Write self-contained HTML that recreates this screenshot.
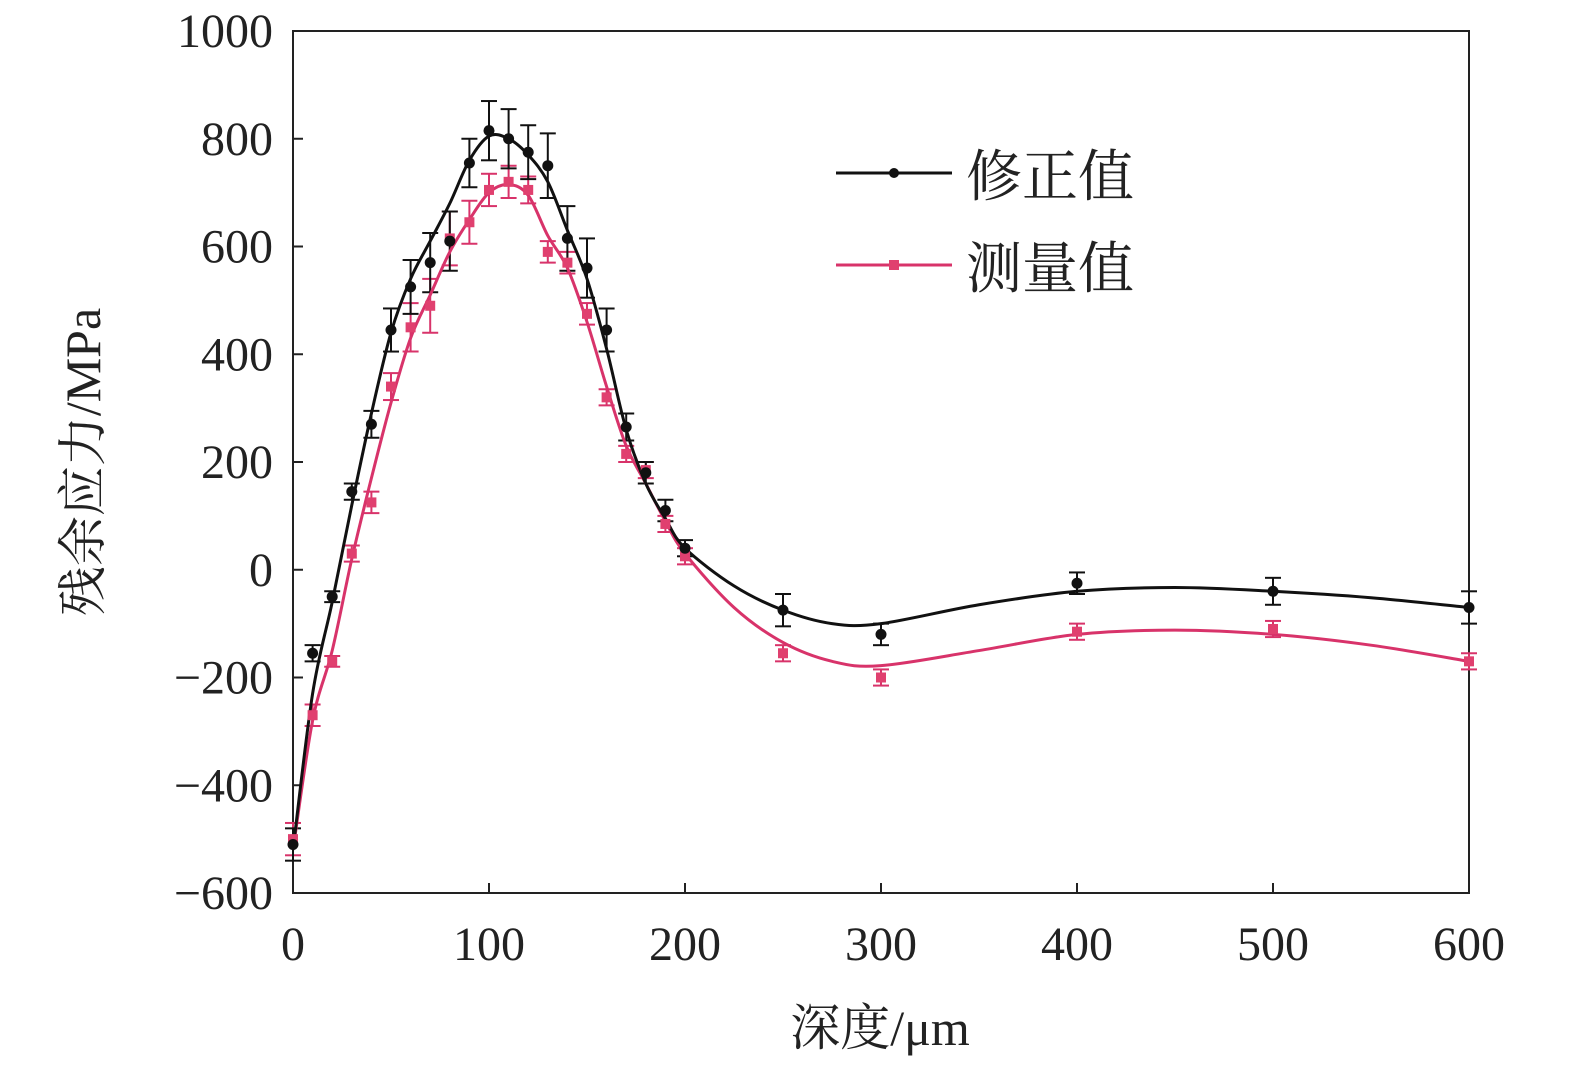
<!DOCTYPE html>
<html><head><meta charset="utf-8"><style>
html,body{margin:0;padding:0;background:#fff;}
svg{display:block;}
text{font-family:"Liberation Serif","Noto Serif CJK SC",serif;fill:#222;}
</style></head><body>
<svg id="s" width="1575" height="1067" viewBox="0 0 1575 1067" xmlns="http://www.w3.org/2000/svg"></svg>
<script>
const s=document.getElementById('s');
const X=v=>293+v*1.96, Y=v=>569.75-v*0.53875;
let h='';
h+=`<rect x="293" y="31" width="1176" height="862" fill="none" stroke="#222" stroke-width="2"/>`;
for(let v=-600;v<=1000;v+=200){const y=Y(v);
 h+=`<line x1="293" y1="${y}" x2="303" y2="${y}" stroke="#222" stroke-width="2"/>`;
 h+=`<text x="273" y="${y+16}" font-size="48" text-anchor="end">${v<0?'\u2212'+(-v):v}</text>`;}
for(let v=0;v<=600;v+=100){const x=X(v);
 h+=`<line x1="${x}" y1="893" x2="${x}" y2="883" stroke="#222" stroke-width="2"/>`;
 h+=`<text x="${x}" y="960" font-size="48" text-anchor="middle">${v}</text>`;}
h+=`<text x="880" y="1045" font-size="50" text-anchor="middle">深度/μm</text>`;
h+=`<text transform="translate(100,462) rotate(-90)" font-size="50" text-anchor="middle">残余应力/MPa</text>`;
function cr(pts){let d=`M${X(pts[0][0])},${Y(pts[0][1])}`;
 for(let i=0;i<pts.length-1;i++){const p0=pts[Math.max(0,i-1)],p1=pts[i],p2=pts[i+1],p3=pts[Math.min(pts.length-1,i+2)];
  const a=[X(p1[0])+(X(p2[0])-X(p0[0]))/6,Y(p1[1])+(Y(p2[1])-Y(p0[1]))/6];
  const b=[X(p2[0])-(X(p3[0])-X(p1[0]))/6,Y(p2[1])-(Y(p3[1])-Y(p1[1]))/6];
  d+=` C${a[0]},${a[1]} ${b[0]},${b[1]} ${X(p2[0])},${Y(p2[1])}`;}
 return d;}
const bf=[[0,-520],[10,-230],[20,-60],[30,120],[40,290],[50,440],[60,540],[70,610],[80,680],[90,760],[100,805],[110,800],[120,770],[130,720],[140,630],[150,540],[160,410],[170,260],[180,160],[190,95],[200,40],[225,-30],[250,-75],[275,-100],[300,-100],[350,-65],[400,-40],[450,-33],[500,-40],[550,-52],[600,-70]];
const pf=[[0,-520],[10,-280],[20,-150],[30,20],[40,170],[50,310],[60,430],[70,510],[80,590],[90,650],[100,700],[110,715],[120,695],[130,620],[140,560],[150,460],[160,340],[170,230],[180,160],[190,90],[200,30],[225,-70],[250,-135],[275,-170],[300,-178],[350,-150],[400,-120],[450,-112],[500,-120],[550,-140],[600,-170]];
const bd=[[0,-510,30],[10,-155,15],[20,-50,10],[30,145,15],[40,270,25],[50,445,40],[60,525,50],[70,570,55],[80,610,55],[90,755,45],[100,815,55],[110,800,55],[120,775,50],[130,750,60],[140,615,60],[150,560,55],[160,445,40],[170,265,25],[180,180,20],[190,110,20],[200,40,15],[250,-75,30],[300,-120,20],[400,-25,20],[500,-40,25],[600,-70,30]];
const pd=[[0,-500,30],[10,-270,20],[20,-170,10],[30,30,15],[40,125,20],[50,340,25],[60,450,45],[70,490,50],[80,615,50],[90,645,40],[100,705,30],[110,720,30],[120,705,25],[130,590,20],[140,570,20],[150,475,20],[160,320,15],[170,215,15],[180,185,15],[190,85,15],[200,25,15],[250,-155,15],[300,-200,15],[400,-115,15],[500,-110,15],[600,-170,15]];
function eb(d,c){let r='';for(const [x,y,e] of d){const px=X(x),y1=Y(y+e),y2=Y(y-e);
 r+=`<line x1="${px}" y1="${y1}" x2="${px}" y2="${y2}" stroke="${c}" stroke-width="2"/><line x1="${px-8}" y1="${y1}" x2="${px+8}" y2="${y1}" stroke="${c}" stroke-width="2"/><line x1="${px-8}" y1="${y2}" x2="${px+8}" y2="${y2}" stroke="${c}" stroke-width="2"/>`;}return r;}
h+=eb(pd,'#d8336a');
h+=eb(bd,'#111');
h+=`<path d="${cr(pf)}" fill="none" stroke="#d8336a" stroke-width="3"/>`;
h+=`<path d="${cr(bf)}" fill="none" stroke="#111" stroke-width="3"/>`;
for(const [x,y] of pd)h+=`<rect x="${X(x)-5}" y="${Y(y)-5}" width="10" height="10" fill="#e0406f"/>`;
for(const [x,y] of bd)h+=`<circle cx="${X(x)}" cy="${Y(y)}" r="5.5" fill="#111"/>`;
h+=`<line x1="836" y1="173" x2="952" y2="173" stroke="#111" stroke-width="3"/><circle cx="894" cy="173" r="5" fill="#111"/>`;
h+=`<text x="966" y="196" font-size="56">修正值</text>`;
h+=`<line x1="836" y1="265" x2="952" y2="265" stroke="#d8336a" stroke-width="3"/><rect x="889" y="260" width="10" height="10" fill="#e0406f"/>`;
h+=`<text x="966" y="288" font-size="56">测量值</text>`;
s.innerHTML=h;
</script>
</body></html>
